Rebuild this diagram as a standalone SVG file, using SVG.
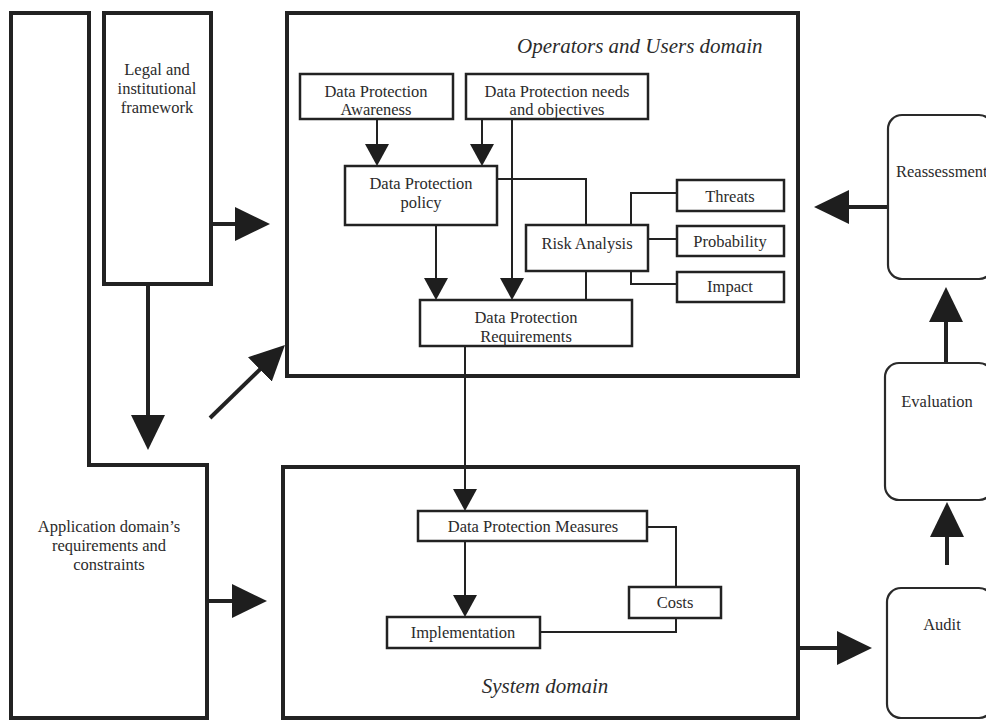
<svg xmlns="http://www.w3.org/2000/svg" width="986" height="720" viewBox="0 0 986 720">
  <style>
    .outer { fill: none; stroke: #222; stroke-width: 4; }
    .box { fill: #fff; stroke: #222; stroke-width: 2.5; }
    .rbox { fill: #fff; stroke: #2a2a2a; stroke-width: 2.2; }
    .t { font-family: "Liberation Serif", "Times New Roman", serif; font-size: 16.5px; fill: #2b2b2b; text-anchor: middle; }
    .ti { font-family: "Liberation Serif", "Times New Roman", serif; font-size: 21px; font-style: italic; fill: #2b2b2b; }
    .thin { fill: none; stroke: #222; stroke-width: 2; }
    .thick { fill: none; stroke: #222; stroke-width: 4; }
  </style>
  <defs>
    <marker id="sm" viewBox="0 0 22 24" refX="14" refY="12" markerWidth="22" markerHeight="24" markerUnits="userSpaceOnUse" orient="auto">
      <path d="M0,0 L22,12 L0,24 Z" fill="#1e1e1e"/>
    </marker>
    <marker id="lg" viewBox="0 0 35 34" refX="25" refY="17" markerWidth="35" markerHeight="34" markerUnits="userSpaceOnUse" orient="auto">
      <path d="M0,0 L35,17 L0,34 Z" fill="#1e1e1e"/>
    </marker>
  </defs>
  <rect x="0" y="0" width="986" height="720" fill="#ffffff"/>

  <g id="application-domain">
    <path class="outer" d="M11,13 L89,13 L89,465 L207,465 L207,718 L11,718 Z"/>
    <text class="t" x="109" y="532">Application domain’s</text>
    <text class="t" x="109" y="551">requirements and</text>
    <text class="t" x="109" y="570">constraints</text>
  </g>

  <g id="legal-framework">
    <rect class="outer" x="104" y="13" width="107" height="271"/>
    <text class="t" x="157" y="75">Legal and</text>
    <text class="t" x="157" y="94">institutional</text>
    <text class="t" x="157" y="113">framework</text>
  </g>

  <g id="operators-users-domain">
    <rect class="outer" x="287" y="13" width="511" height="363"/>
    <text class="ti" x="517" y="53">Operators and Users domain</text>
  </g>

  <g id="system-domain">
    <rect class="outer" x="283" y="467" width="515" height="251"/>
    <text class="ti" x="545" y="693" text-anchor="middle">System domain</text>
  </g>

  <g id="connectors">
    <line class="thick" x1="211" y1="224" x2="260" y2="224" marker-end="url(#lg)"/>
    <line class="thick" x1="148" y1="284" x2="148" y2="440" marker-end="url(#lg)"/>
    <line class="thick" x1="210" y1="418" x2="277.8" y2="352" marker-end="url(#lg)"/>
    <line class="thick" x1="207" y1="601" x2="257" y2="601" marker-end="url(#lg)"/>
    <line class="thick" x1="888" y1="207" x2="824" y2="207" marker-end="url(#lg)"/>
    <line class="thick" x1="946" y1="363" x2="946" y2="297" marker-end="url(#lg)"/>
    <line class="thick" x1="947" y1="565" x2="947" y2="512" marker-end="url(#lg)"/>
    <line class="thick" x1="798" y1="648" x2="862" y2="648" marker-end="url(#lg)"/>
    <line class="thin" x1="377" y1="119" x2="377" y2="158" marker-end="url(#sm)"/>
    <line class="thin" x1="482" y1="119" x2="482" y2="158" marker-end="url(#sm)"/>
    <line class="thin" x1="512" y1="119" x2="512" y2="292" marker-end="url(#sm)"/>
    <line class="thin" x1="436" y1="225" x2="436" y2="292" marker-end="url(#sm)"/>
    <polyline class="thin" points="497,179 586,179 586,225"/>
    <line class="thin" x1="586" y1="271" x2="586" y2="300"/>
    <polyline class="thin" points="631,225 631,193 677,193"/>
    <line class="thin" x1="648" y1="239" x2="677" y2="239"/>
    <polyline class="thin" points="631,271 631,284 677,284"/>
    <line class="thin" x1="465" y1="346" x2="465" y2="503" marker-end="url(#sm)"/>
    <line class="thin" x1="465" y1="541" x2="465" y2="609" marker-end="url(#sm)"/>
    <polyline class="thin" points="647,527 676,527 676,587"/>
    <polyline class="thin" points="676,618 676,632 540,632"/>
  </g>

  <g id="dp-awareness">
    <rect class="box" x="300" y="74" width="153" height="45"/>
    <text class="t" x="376" y="97">Data Protection</text>
    <text class="t" x="376" y="115">Awareness</text>
  </g>
  <g id="dp-needs">
    <rect class="box" x="466" y="74" width="182" height="45"/>
    <text class="t" x="557" y="97">Data Protection needs</text>
    <text class="t" x="557" y="115">and objectives</text>
  </g>
  <g id="dp-policy">
    <rect class="box" x="345" y="166" width="152" height="59"/>
    <text class="t" x="421" y="189">Data Protection</text>
    <text class="t" x="421" y="208">policy</text>
  </g>
  <g id="risk-analysis">
    <rect class="box" x="526" y="225" width="122" height="46"/>
    <text class="t" x="587" y="249">Risk Analysis</text>
  </g>
  <g id="threats">
    <rect class="box" x="677" y="180" width="107" height="31"/>
    <text class="t" x="730" y="202">Threats</text>
  </g>
  <g id="probability">
    <rect class="box" x="677" y="226" width="107" height="30"/>
    <text class="t" x="730" y="247">Probability</text>
  </g>
  <g id="impact">
    <rect class="box" x="677" y="272" width="107" height="30"/>
    <text class="t" x="730" y="292">Impact</text>
  </g>
  <g id="dp-requirements">
    <rect class="box" x="420" y="300" width="212" height="46"/>
    <text class="t" x="526" y="323">Data Protection</text>
    <text class="t" x="526" y="342">Requirements</text>
  </g>
  <g id="dp-measures">
    <rect class="box" x="418" y="511" width="229" height="30"/>
    <text class="t" x="533" y="532">Data Protection Measures</text>
  </g>
  <g id="implementation">
    <rect class="box" x="387" y="617" width="153" height="31"/>
    <text class="t" x="463" y="638">Implementation</text>
  </g>
  <g id="costs">
    <rect class="box" x="629" y="587" width="92" height="31"/>
    <text class="t" x="675" y="608">Costs</text>
  </g>

  <g id="reassessment">
    <rect class="rbox" x="888" y="115" width="105" height="164" rx="14" ry="14"/>
    <text class="t" x="896" y="177" style="text-anchor:start">Reassessment</text>
  </g>
  <g id="evaluation">
    <rect class="rbox" x="885" y="363" width="108" height="137" rx="14" ry="14"/>
    <text class="t" x="937" y="407">Evaluation</text>
  </g>
  <g id="audit">
    <rect class="rbox" x="887" y="588" width="106" height="130" rx="14" ry="14"/>
    <text class="t" x="942" y="630">Audit</text>
  </g>
</svg>
